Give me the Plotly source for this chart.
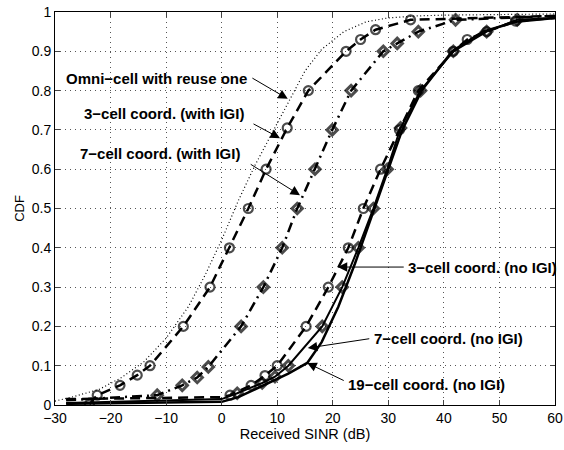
import plotly.graph_objects as go

# ---- data ----
omni_x = [-30, -27, -22, -18, -14, -10, -6, -3, 0, 3, 6, 9, 12, 15, 18, 22, 26, 30, 35, 40, 60]
omni_y = [0.01, 0.02, 0.04, 0.07, 0.11, 0.17, 0.25, 0.33, 0.42, 0.52, 0.61, 0.69, 0.77, 0.85, 0.905, 0.95, 0.975, 0.985, 0.99, 0.992, 0.995]

igi3_x = [-23.8, -22.4, -18.3, -15.2, -12.9, -6.9, -2.1, 1.4, 4.8, 8.0, 11.8, 15.6, 22.4, 25.0, 27.7, 34.0, 60]
igi3_y = [0.002, 0.025, 0.05, 0.076, 0.1, 0.2, 0.3, 0.4, 0.5, 0.6, 0.705, 0.8, 0.9, 0.93, 0.955, 0.98, 0.99]
igi3_mark = [True] * 16 + [False]

igi7_x = [-28, -11.6, -7.1, -4.4, -2.4, 3.5, 7.5, 10.9, 13.6, 16.8, 19.9, 23.3, 29.1, 31.6, 35.4, 42.1, 60]
igi7_y = [0.012, 0.025, 0.05, 0.07, 0.097, 0.2, 0.3, 0.4, 0.5, 0.6, 0.7, 0.8, 0.9, 0.92, 0.95, 0.98, 0.99]
igi7_mark = [False] + [True] * 15 + [False]

no3_x = [-28, 0, 1.5, 5.3, 7.8, 10.0, 15.2, 19.2, 22.8, 25.5, 28.6, 32.0, 35.4, 41.7, 44.2, 47.7, 52.9, 60]
no3_y = [0.015, 0.02, 0.025, 0.05, 0.075, 0.1, 0.2, 0.3, 0.4, 0.5, 0.6, 0.7, 0.8, 0.9, 0.93, 0.95, 0.977, 0.985]
no3_mark = [False, False] + [True] * 15 + [False]

no7_x = [-28, 0, 2.8, 7.3, 9.6, 12.0, 18.1, 21.7, 24.6, 27.3, 29.8, 32.2, 35.8, 41.7, 47.7, 53.2, 60]
no7_y = [0.005, 0.015, 0.03, 0.056, 0.072, 0.1, 0.2, 0.3, 0.4, 0.5, 0.6, 0.705, 0.8, 0.9, 0.95, 0.98, 0.985]
no7_mark = [False, False] + [True] * 14 + [False]

no19_x = [-28, 0, 3, 6, 9, 12, 15.4, 18, 21, 24, 27, 30, 32.5, 36, 41.5, 47, 53, 60]
no19_y = [0.003, 0.008, 0.02, 0.04, 0.06, 0.08, 0.107, 0.16, 0.25, 0.36, 0.48, 0.6, 0.7, 0.8, 0.9, 0.95, 0.975, 0.985]

x_ticks = [-30, -20, -10, 0, 10, 20, 30, 40, 50, 60]
y_ticks = [0, 0.1, 0.2, 0.3, 0.4, 0.5, 0.6, 0.7, 0.8, 0.9, 1]
y_tick_text = ["0", "0.1", "0.2", "0.3", "0.4", "0.5", "0.6", "0.7", "0.8", "0.9", "1"]

labels = [
    # text, text_x, text_y, tail_x, tail_y, tip_x, tip_y
    ("Omni\u2212cell with reuse one", -28.4, 0.83, 4.9, 0.837, 11.9, 0.779),
    ("3\u2212cell coord. (with IGI)", -25.2, 0.743, 5.1, 0.72, 10.5, 0.679),
    ("7\u2212cell coord. (with IGI)", -25.9, 0.641, 4.6, 0.618, 14.1, 0.534),
    ("3\u2212cell coord. (no IGI)", 33.2, 0.349, 33.4, 0.351, 20.9, 0.351),
    ("7\u2212cell coord. (no IGI)", 27.0, 0.17, 27.2, 0.17, 15.5, 0.145),
    ("19\u2212cell coord. (no IGI)", 22.4, 0.053, 22.6, 0.058, 15.4, 0.107),
]

FONT = "Liberation Sans, Arial, Helvetica, sans-serif"

fig = go.Figure()

fig.add_trace(go.Scatter(x=omni_x, y=omni_y, mode="lines",
                         line=dict(color="black", width=1.2, dash="1px,2.5px")))

def marked(xs, ys, flags, symbol, dash, width, msize, mlw):
    sizes = [msize if f else 0 for f in flags]
    fig.add_trace(go.Scatter(
        x=xs, y=ys, mode="lines+markers",
        line=dict(color="black", width=width, dash=dash),
        marker=dict(symbol=symbol, size=sizes, color="black",
                    line=dict(color="black", width=mlw))))

marked(igi3_x, igi3_y, igi3_mark, "circle-open", "10px,6px", 2.5, 9, 2.2)
marked(igi7_x, igi7_y, igi7_mark, "diamond-open", "10px,5px,2px,5px", 2.5, 8, 3)
marked(no3_x, no3_y, no3_mark, "circle-open", "10px,6px", 2.5, 9, 2.2)
marked(no7_x, no7_y, no7_mark, "diamond-open", "solid", 2, 8, 3)

fig.add_trace(go.Scatter(x=no19_x, y=no19_y, mode="lines",
                         line=dict(color="black", width=2.5)))

for text, tx, ty, ax_, ay_, px, py in labels:
    fig.add_annotation(x=tx, y=ty, xref="x", yref="y", text="<b>%s</b>" % text,
                       showarrow=False, xanchor="left", yanchor="middle",
                       font=dict(family=FONT, size=15, color="black"))
    fig.add_annotation(x=px, y=py, xref="x", yref="y", ax=ax_, ay=ay_,
                       axref="x", ayref="y", text=" ", showarrow=True,
                       arrowhead=2, arrowsize=1.9, arrowwidth=1, arrowcolor="black")

fig.update_layout(
    width=564, height=450,
    margin=dict(l=55, r=9, t=12, b=45, autoexpand=False),
    paper_bgcolor="white", plot_bgcolor="white",
    showlegend=False,
    font=dict(family=FONT, size=14, color="black"),
)
fig.update_xaxes(range=[-30, 60], tickvals=x_ticks, ticks="inside", ticklen=5,
                 showline=True, linecolor="black", linewidth=1, mirror="allticks",
                 showgrid=True, gridcolor="#555", gridwidth=1, griddash="1px,4px",
                 zeroline=False, tickfont=dict(size=14), automargin=False,
                 title=dict(text="Received SINR (dB)", font=dict(size=14.5), standoff=4))
fig.update_yaxes(range=[0, 1], tickvals=y_ticks, ticktext=y_tick_text, ticks="inside", ticklen=5,
                 showline=True, linecolor="black", linewidth=1, mirror="allticks",
                 showgrid=True, gridcolor="#555", gridwidth=1, griddash="1px,4px",
                 zeroline=False, tickfont=dict(size=14), automargin=False,
                 title=dict(text="CDF", font=dict(size=13), standoff=4))

fig.write_html("out.html")
